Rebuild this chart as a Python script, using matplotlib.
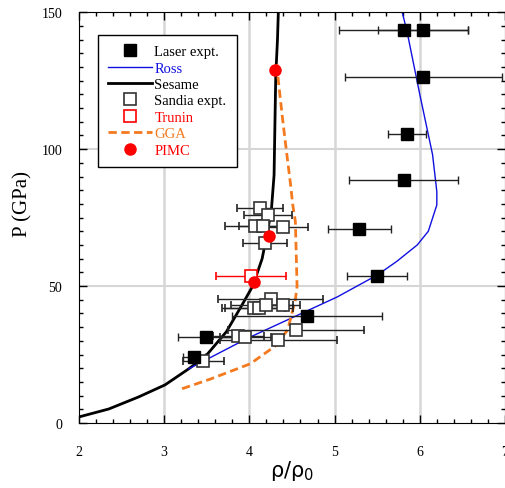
import matplotlib.pyplot as plt
from matplotlib.lines import Line2D
from matplotlib.ticker import MultipleLocator

# Laser expt. (x, y, xerr)
laser_x = [5.81, 6.04, 6.04, 5.85, 5.81, 5.29, 5.50, 4.68, 3.49, 3.35]
laser_y = [143.6, 143.6, 126.4, 105.5, 88.6, 70.7, 53.8, 39.2, 31.5, 24.2]
laser_err = [0.76, 0.53, 0.92, 0.22, 0.64, 0.37, 0.35, 0.88, 0.33, 0.13]

# Sandia expt.
sandia_x = [4.12, 4.22, 4.07, 4.16, 4.39, 4.18, 4.25, 4.05, 4.11, 4.19, 4.39,
            4.55, 3.87, 3.95, 4.34, 3.46]
sandia_y = [78.4, 75.8, 71.8, 71.8, 71.4, 65.9, 45.4, 41.8, 42.1, 42.9, 42.9,
            34.1, 31.9, 31.5, 30.4, 22.7]
sandia_err = [0.27, 0.28, 0.35, 0.28, 0.30, 0.26, 0.62, 0.37, 0.40, 0.40, 0.12,
              0.80, 0.30, 0.30, 0.69, 0.24]

# Trunin
trunin_x = [4.02]
trunin_y = [53.5]
trunin_err = [0.41]

# PIMC
pimc_x = [4.30, 4.23, 4.05]
pimc_y = [128.9, 68.1, 51.3]

# Ross
ross_x = [3.29, 3.97, 5.03, 5.50, 5.73, 5.97, 6.10, 6.20, 6.20, 6.15, 6.00, 5.85, 5.79]
ross_y = [19.8, 30.8, 46.0, 54.0, 59.0, 65.0, 70.0, 79.6, 84.5, 98.0, 120.0, 143.0, 150.5]

# Sesame
sesame_x = [2.0, 2.35, 2.70, 3.01, 3.29, 3.49, 3.73, 3.89, 4.04, 4.15, 4.22,
            4.26, 4.29, 4.30, 4.31, 4.33, 4.34]
sesame_y = [2.2, 5.1, 9.5, 13.9, 19.8, 24.5, 33.3, 41.8, 50.0, 60.0, 71.0,
            78.4, 90.5, 109.0, 127.0, 140.0, 150.0]

# GGA
gga_x = [3.21, 3.54, 4.01, 4.30, 4.45, 4.54, 4.56, 4.54, 4.51, 4.48, 4.44, 4.39, 4.34, 4.32]
gga_y = [12.5, 16.0, 21.6, 28.0, 34.0, 45.0, 50.0, 73.6, 79.5, 88.0, 98.0, 111.0, 125.0, 132.0]

orange = '#f47a20'
blue = '#1010e0'

fig = plt.figure(figsize=(5.06, 4.89), dpi=100)
ax = fig.add_axes([0.156, 0.133, 0.842, 0.840])

# grid
for gx in [3, 4, 5, 6]:
    ax.axvline(gx, color='#d6d6d6', lw=1.8, zorder=0)
for gy in [50, 100]:
    ax.axhline(gy, color='#d6d6d6', lw=1.5, zorder=0)

ax.plot(sesame_x, sesame_y, color='black', lw=2, zorder=2)
ax.plot(ross_x, ross_y, color=blue, lw=1, zorder=2)
ax.plot(gga_x, gga_y, color=orange, lw=2, ls=(0, (3, 1.6)), zorder=2)

ax.errorbar(sandia_x, sandia_y, xerr=sandia_err, fmt='s', ms=8, mfc='white',
            mec='#333333', mew=1.2, ecolor='#222222', elinewidth=1, capsize=3,
            zorder=3)
ax.errorbar(trunin_x, trunin_y, xerr=trunin_err, fmt='s', ms=8, mfc='white',
            mec='red', mew=1.2, ecolor='red', elinewidth=1, capsize=3, zorder=3)
ax.errorbar(laser_x, laser_y, xerr=laser_err, fmt='s', ms=8, color='black',
            ecolor='#222222', elinewidth=1, capsize=3, zorder=3)
ax.plot(pimc_x, pimc_y, 'o', color='red', ms=8, zorder=4)

ax.set_xlim(2, 7)
ax.set_ylim(0, 150)
ax.xaxis.set_major_locator(MultipleLocator(1))
ax.xaxis.set_minor_locator(MultipleLocator(0.2))
ax.yaxis.set_major_locator(MultipleLocator(50))
ax.yaxis.set_minor_locator(MultipleLocator(5))
ax.tick_params(which='both', direction='in', top=True, right=True)
ax.tick_params(which='major', length=6, width=1)
ax.tick_params(which='minor', length=3, width=1)
ax.tick_params(axis='x', pad=16)
ax.tick_params(axis='y', pad=12)
for lab in ax.get_xticklabels() + ax.get_yticklabels():
    lab.set_family('Liberation Serif')
    lab.set_fontsize(10)

ax.set_xlabel(r'$\mathregular{\rho/\rho_0}$', fontsize=15, labelpad=0)
ax.set_ylabel('P (GPa)', fontsize=15, family='Liberation Serif')
ax.yaxis.set_label_coords(-0.108, 0.535)

# legend with plain markers
handles = [
    Line2D([], [], ls='none', marker='s', ms=8, color='black'),
    Line2D([], [], color=blue, lw=1),
    Line2D([], [], color='black', lw=2),
    Line2D([], [], ls='none', marker='s', ms=8, mfc='white', mec='#333333', mew=1.2),
    Line2D([], [], ls='none', marker='s', ms=8, mfc='white', mec='red', mew=1.2),
    Line2D([], [], color=orange, lw=2, ls=(0, (3, 1.6))),
    Line2D([], [], ls='none', marker='o', ms=8, color='red'),
]
labels = ['Laser expt.', 'Ross', 'Sesame', 'Sandia expt.', 'Trunin', 'GGA', 'PIMC']
leg = ax.legend(handles, labels, loc='upper left',
                bbox_to_anchor=(0.045, 0.945), frameon=True, fancybox=False,
                edgecolor='black', framealpha=1, handlelength=3.0,
                handletextpad=0.15, labelspacing=0.22, borderpad=0.7,
                borderaxespad=0, prop={'family': 'Liberation Serif', 'size': 10.5})
leg.get_frame().set_linewidth(1)
colors = ['black', blue, 'black', 'black', 'red', orange, 'red']
for t, c in zip(leg.get_texts(), colors):
    t.set_color(c)

plt.savefig('out.png', dpi=100)
plt.close()
